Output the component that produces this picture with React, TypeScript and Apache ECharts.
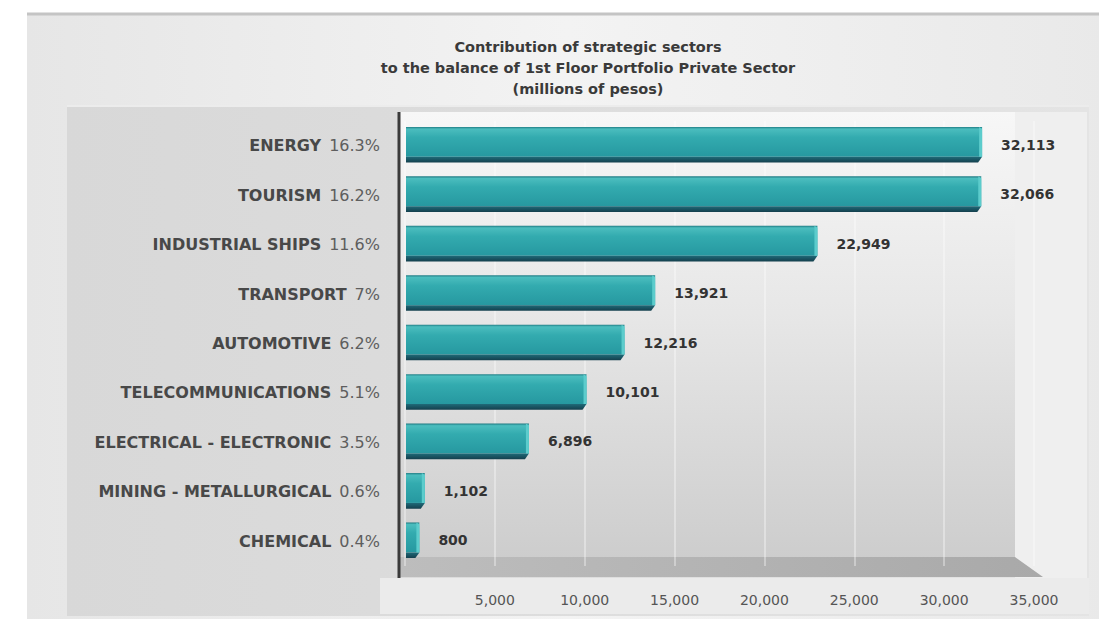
import React, { useEffect, useRef } from "react";
import * as echarts from "echarts";

const categories = [
  "ENERGY",
  "TOURISM",
  "INDUSTRIAL SHIPS",
  "TRANSPORT",
  "AUTOMOTIVE",
  "TELECOMMUNICATIONS",
  "ELECTRICAL - ELECTRONIC",
  "MINING - METALLURGICAL",
  "CHEMICAL",
];
const shares = ["16.3%", "16.2%", "11.6%", "7%", "6.2%", "5.1%", "3.5%", "0.6%", "0.4%"];
const values = [32113, 32066, 22949, 13921, 12216, 10101, 6896, 1102, 800];
const xTicks = [0, 5000, 10000, 15000, 20000, 25000, 30000, 35000];
const titleLines = [
  "Contribution of strategic sectors",
  "to the balance of 1st Floor Portfolio Private Sector",
  "(millions of pesos)",
];

const FONT = "'DejaVu Sans', Verdana, sans-serif";

export default function App() {
  const ref = useRef<HTMLDivElement>(null);
  useEffect(() => {
    if (!ref.current) return;
    const chart = echarts.init(ref.current, null, { renderer: "svg" });
    const data = values.map((v, i) => [v, i]);
    const option: any = {
      animation: false,
      backgroundColor: "#ffffff",
      title: {
        text: titleLines.join("\n"),
        left: 583,
        textAlign: "center",
        top: 31,
        textStyle: {
          fontFamily: FONT,
          fontSize: 14.5,
          fontWeight: "bold",
          color: "#3a3a3a",
          lineHeight: 21,
        },
      },
      graphic: [
        { type: "rect", z: -20, shape: { x: 27, y: 13, width: 1080, height: 606 }, style: { fill: new echarts.graphic.LinearGradient(0, 0, 1, 0, [{ offset: 0, color: "#e6e6e6" }, { offset: 0.5, color: "#f3f3f3" }, { offset: 1, color: "#e9e9e9" }]) } },
        { type: "line", z: -19, shape: { x1: 27, y1: 14, x2: 1107, y2: 14 }, style: { stroke: "#c4c4c4", lineWidth: 3 } },
        { type: "rect", z: -18, shape: { x: 67, y: 105, width: 1022, height: 511 }, style: { fill: new echarts.graphic.LinearGradient(0, 0, 1, 0, [{ offset: 0, color: "#d8d8d8" }, { offset: 0.4, color: "#dcdcdc" }, { offset: 1, color: "#e4e4e4" }]) } },
        { type: "line", z: -17, shape: { x1: 67, y1: 106, x2: 1089, y2: 106 }, style: { stroke: "#ececec", lineWidth: 2 } },
        { type: "rect", z: -16, shape: { x: 1015, y: 112, width: 72, height: 466 }, style: { fill: "#efefef" } },
        { type: "rect", z: -16, shape: { x: 400, y: 112, width: 615, height: 446 }, style: { fill: new echarts.graphic.LinearGradient(0, 0, 0, 1, [{ offset: 0, color: "#f7f7f7" }, { offset: 0.45, color: "#e7e7e7" }, { offset: 1, color: "#cdcdcd" }]) } },
        { type: "polygon", z: -15, shape: { points: [[400, 557], [1015, 557], [1043, 577], [400, 577]] }, style: { fill: new echarts.graphic.LinearGradient(0, 0, 1, 0, [{ offset: 0, color: "#bdbdbd" }, { offset: 1, color: "#a9a9a9" }]) } },
        { type: "rect", z: -15, shape: { x: 380, y: 578, width: 709, height: 36 }, style: { fill: "#ebebeb" } },
        { type: "line", z: 5, shape: { x1: 399, y1: 112, x2: 399, y2: 578 }, style: { stroke: "#3a3a3a", lineWidth: 3 } },
      ],
      grid: { left: 405, right: 73, top: 121, bottom: 64, containLabel: false },
      xAxis: {
        type: "value",
        min: xTicks[0],
        max: xTicks[xTicks.length - 1],
        interval: xTicks[1] - xTicks[0],
        axisLine: { show: false },
        axisTick: { show: false },
        splitLine: { show: true, lineStyle: { color: "rgba(255,255,255,0.35)", width: 2 } },
        axisLabel: {
          margin: 27,
          fontFamily: FONT,
          fontSize: 14,
          color: "#555555",
          formatter: (v: number) => (v === 0 ? "" : v.toLocaleString("en-US")),
        },
      },
      yAxis: {
        type: "category",
        data: categories,
        inverse: true,
        axisLine: { show: false },
        axisTick: { show: false },
        splitLine: { show: false },
        axisLabel: {
          margin: 25,
          formatter: (v: string, i: number) => `{n|${v}}{p|${shares[i]}}`,
          rich: {
            n: { fontFamily: FONT, fontWeight: "bold", fontSize: 16, color: "#484848" },
            p: { fontFamily: FONT, fontSize: 16, color: "#5e5e5e", padding: [0, 0, 0, 8] },
          },
        },
      },
      series: [
        {
          type: "custom",
          data,
          encode: { x: 0, y: 1 },
          renderItem: (params: any, api: any) => {
            const v = api.value(0);
            const idx = api.value(1);
            const s = api.coord([0, idx]);
            const e = api.coord([v, idx]);
            const band = api.size([0, 1])[1];
            const h = band * 0.72;
            const x0 = s[0] + 1;
            const x1 = e[0];
            const yT = s[1] - h / 2 - 1;
            const fh = h * 0.84;
            return {
              type: "group",
              children: [
                {
                  type: "rect",
                  shape: { x: x0, y: yT, width: Math.max(x1 - x0, 1), height: fh },
                  style: {
                    fill: new echarts.graphic.LinearGradient(0, 0, 0, 1, [
                      { offset: 0, color: "#1f7c84" },
                      { offset: 0.07, color: "#4bbdbe" },
                      { offset: 0.35, color: "#33abaf" },
                      { offset: 1, color: "#2698a0" },
                    ]),
                  },
                },
                {
                  type: "polygon",
                  shape: { points: [[x0, yT + fh], [x1, yT + fh], [x1 - 4, yT + h], [x0, yT + h]] },
                  style: {
                    fill: new echarts.graphic.LinearGradient(0, 0, 0, 1, [
                      { offset: 0, color: "#1f6a78" },
                      { offset: 1, color: "#143f4d" },
                    ]),
                  },
                },
                {
                  type: "polygon",
                  shape: { points: [[x1 - 3, yT], [x1, yT + 2], [x1, yT + fh], [x1 - 3, yT + fh]] },
                  style: { fill: "#5ccccc" },
                },
                {
                  type: "text",
                  style: {
                    text: v.toLocaleString("en-US"),
                    x: x1 + 19,
                    y: yT + h / 2,
                    align: "left",
                    verticalAlign: "middle",
                    fontFamily: FONT,
                    fontWeight: "bold",
                    fontSize: 14,
                    fill: "#333333",
                  },
                },
              ],
            };
          },
        },
      ],
    };
    chart.setOption(option);
    return () => chart.dispose();
  }, []);
  return <div ref={ref} style={{ width: 1107, height: 630, margin: -8 }} />;
}
